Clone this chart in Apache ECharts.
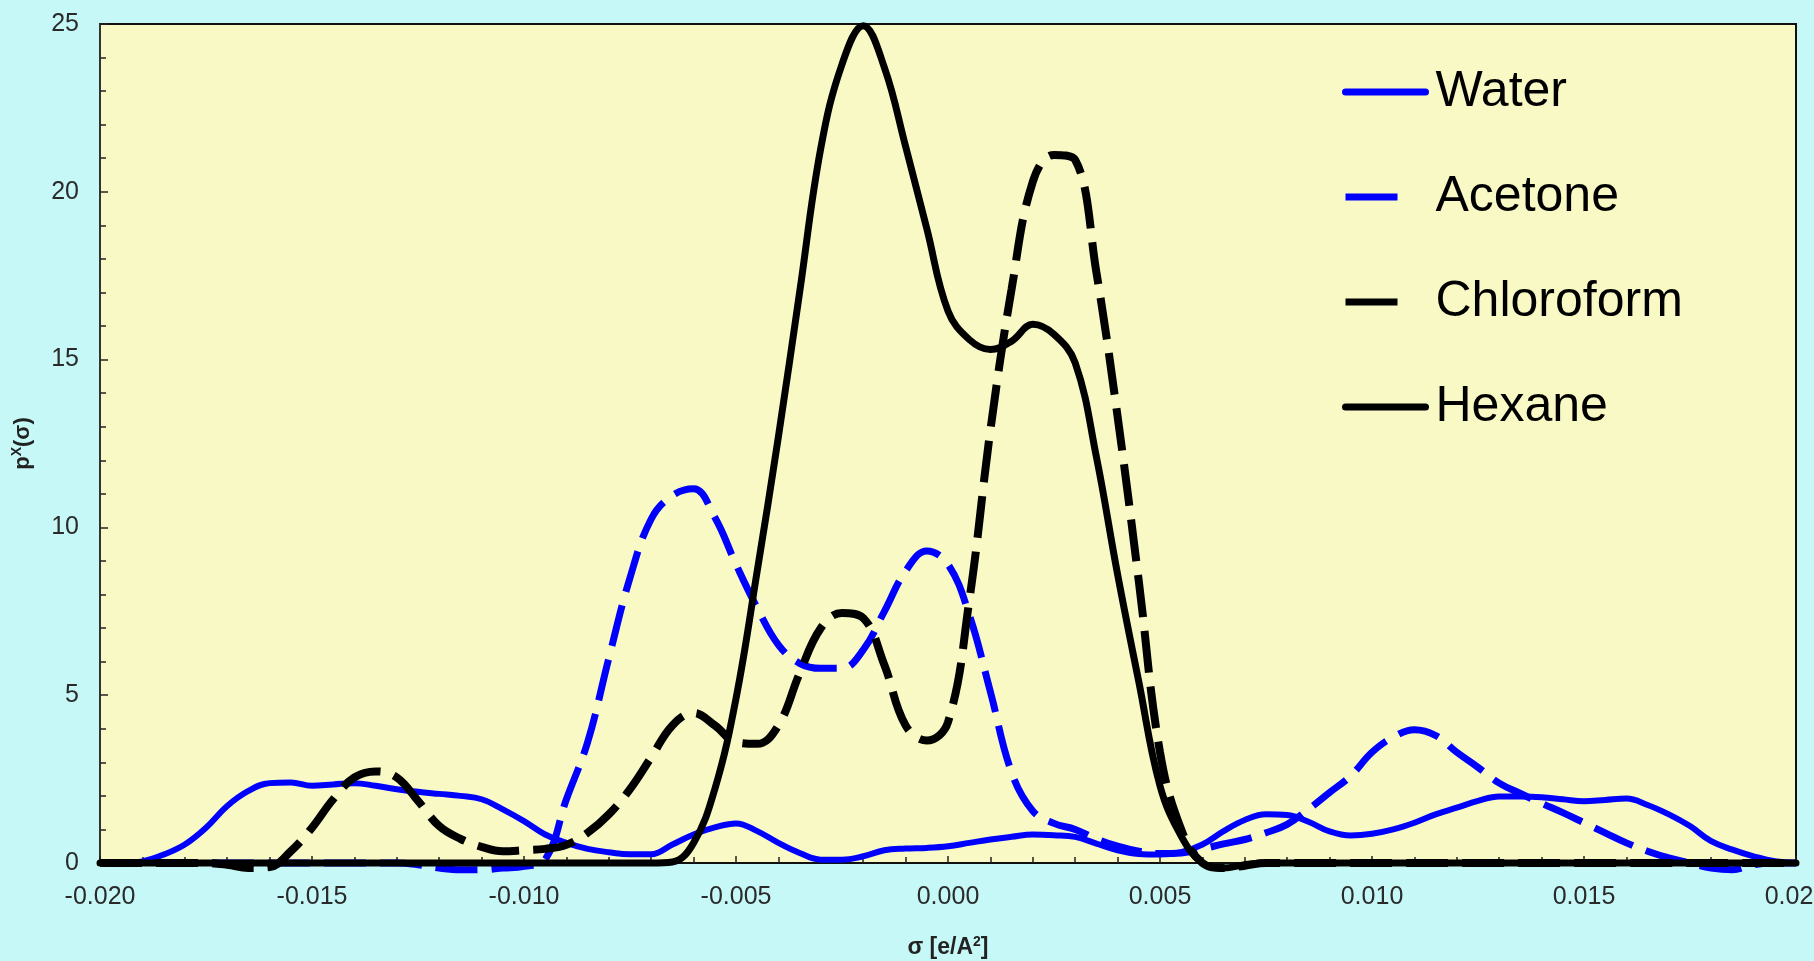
<!DOCTYPE html>
<html>
<head>
<meta charset="utf-8">
<title>Sigma profiles</title>
<script src="https://cdn.jsdelivr.net/npm/echarts@6/dist/echarts.min.js"></script>
<style>
  html, body { margin: 0; padding: 0; background: #c5f8f7; }
  #main { width: 1814px; height: 961px; }
</style>
</head>
<body>
<div id="main"></div>
<script>
// sigma grid [e/A^2], one point every 0.0005
const sigma = [
  -0.0200, -0.0195, -0.0190, -0.0185, -0.0180, -0.0175, -0.0170, -0.0165, -0.0160, -0.0155,
  -0.0150, -0.0145, -0.0140, -0.0135, -0.0130, -0.0125, -0.0120, -0.0115, -0.0110, -0.0105,
  -0.0100, -0.0095, -0.0090, -0.0085, -0.0080, -0.0075, -0.0070, -0.0065, -0.0060, -0.0055,
  -0.0050, -0.0045, -0.0040, -0.0035, -0.0030, -0.0025, -0.0020, -0.0015, -0.0010, -0.0005,
  0.0000, 0.0005, 0.0010, 0.0015, 0.0020, 0.0025, 0.0030, 0.0035, 0.0040, 0.0045,
  0.0050, 0.0055, 0.0060, 0.0065, 0.0070, 0.0075, 0.0080, 0.0085, 0.0090, 0.0095,
  0.0100, 0.0105, 0.0110, 0.0115, 0.0120, 0.0125, 0.0130, 0.0135, 0.0140, 0.0145,
  0.0150, 0.0155, 0.0160, 0.0165, 0.0170, 0.0175, 0.0180, 0.0185, 0.0190, 0.0195,
  0.0200
];

const water = [
  0, 0, 0.05, 0.25, 0.55, 1.05, 1.7, 2.15, 2.38, 2.4,
  2.3, 2.34, 2.38, 2.3, 2.2, 2.12, 2.06, 2.0, 1.9, 1.6,
  1.25, 0.85, 0.6, 0.42, 0.32, 0.26, 0.26, 0.55, 0.85, 1.06,
  1.18, 0.95, 0.6, 0.3, 0.1, 0.1, 0.2, 0.38, 0.43, 0.45,
  0.5, 0.6, 0.7, 0.78, 0.85, 0.83, 0.78, 0.58, 0.38, 0.27,
  0.25, 0.32, 0.55, 0.95, 1.28, 1.45, 1.43, 1.23, 0.94, 0.82,
  0.87, 1.0, 1.2, 1.45, 1.65, 1.85, 1.98, 1.98, 1.96, 1.9,
  1.84, 1.88, 1.92, 1.73, 1.45, 1.1, 0.65, 0.4, 0.2, 0.05,
  0
];

const acetone = [
  0, 0, 0, 0, 0, 0, 0, 0, 0, 0,
  0, 0, 0, 0, 0, -0.05, -0.15, -0.2, -0.2, -0.15,
  -0.1, 0.1, 1.9, 3.6, 6.1, 8.5, 10.25, 10.95, 11.15, 10.3,
  8.9, 7.6, 6.5, 5.95, 5.8, 5.8, 6.35, 7.5, 8.7, 9.3,
  8.9, 7.4, 5.1, 2.7, 1.55, 1.18, 1.0, 0.72, 0.5, 0.35,
  0.28, 0.3, 0.42, 0.57, 0.7, 0.9, 1.15, 1.6, 2.1, 2.6,
  3.3, 3.75, 3.97, 3.8, 3.3, 2.85, 2.38, 2.07, 1.78, 1.5,
  1.2, 0.9, 0.6, 0.35, 0.15, 0, -0.15, -0.2, -0.05, 0,
  0
];

const chloroform = [
  0, 0, 0, 0, 0, 0, -0.05, -0.15, -0.12, 0.35,
  1.05, 1.9, 2.55, 2.73, 2.55, 1.85, 1.1, 0.72, 0.48, 0.35,
  0.38, 0.42, 0.54, 0.9, 1.45, 2.2, 3.15, 4.1, 4.47, 4.1,
  3.6, 3.55, 4.1, 5.65, 7.0, 7.45, 7.3, 5.9, 4.1, 3.65,
  4.2, 7.8, 12.9, 17.1, 20.3, 21.1, 20.95, 17.6, 13.3, 8.4,
  3.3, 1.0, 0, -0.15, -0.08, 0, 0, 0, 0, 0,
  0, 0, 0, 0, 0, 0, 0, 0, 0, 0,
  0, 0, 0, 0, 0, 0, 0, 0, 0, 0,
  0
];

const hexane = [
  0, 0, 0, 0, 0, 0, 0, 0, 0, 0,
  0, 0, 0, 0, 0, 0, 0, 0, 0, 0,
  0, 0, 0, 0, 0, 0, 0, 0.03, 0.6, 2.2,
  4.9, 8.7, 12.7, 17.0, 21.3, 23.8, 24.95, 23.7, 21.35, 18.9,
  16.45, 15.6, 15.3, 15.55, 16.05, 15.75, 14.9, 12.1, 8.6, 5.4,
  2.3, 0.8, 0, -0.15, -0.05, 0, 0, 0, 0, 0,
  0, 0, 0, 0, 0, 0, 0, 0, 0, 0,
  0, 0, 0, 0, 0, 0, 0, 0, 0, 0,
  0
];

const seriesNames = ["Water", "Acetone", "Chloroform", "Hexane"];

const pairs = (ys) => sigma.map((s, i) => [s, ys[i]]);

const myChart = echarts.init(document.getElementById("main"));

const dash = [42, 14];
const font = "Liberation Sans, Arial, sans-serif";

const option = {
  backgroundColor: "#c5f8f7",
  animation: false,
  grid: {
    left: 100,
    right: 18,
    top: 24,
    bottom: 98,
    outerBoundsMode: "none",
    containLabel: false,
    show: true,
    backgroundColor: "#f9f9c5",
    borderColor: "#111",
    borderWidth: 2
  },
  legend: {
    orient: "vertical",
    left: 1337,
    top: 62,
    itemWidth: 80,
    itemHeight: 14,
    itemGap: 55,
    itemStyle: { opacity: 0 },
    lineStyle: { width: 7 },
    textStyle: {
      fontFamily: font,
      fontSize: 50,
      lineHeight: 50,
      color: "#000",
      padding: [0, 0, 0, 5]
    },
    data: [
      { name: "Water" },
      { name: "Acetone", lineStyle: { width: 7, type: [52, 40] } },
      { name: "Chloroform", lineStyle: { width: 7, type: [52, 40] } },
      { name: "Hexane" }
    ]
  },
  xAxis: {
    type: "value",
    min: -0.02,
    max: 0.02,
    interval: 0.005,
    name: "{b|σ [e/A}{sup|2}{b|]}",
    nameLocation: "middle",
    nameGap: 72,
    nameTextStyle: {
      rich: {
        b: { fontFamily: font, fontSize: 23, fontWeight: "bold", color: "#222", lineHeight: 26 },
        sup: { fontFamily: font, fontSize: 14, fontWeight: "bold", color: "#222", verticalAlign: "top", lineHeight: 26 }
      }
    },
    axisLine: { onZero: false, lineStyle: { color: "#111", width: 2 } },
    axisTick: { inside: true, length: 7, lineStyle: { color: "#222", width: 1.5 } },
    minorTick: { show: true, splitNumber: 5, length: 6, lineStyle: { color: "#222", width: 1.5 } },
    splitLine: { show: false },
    axisLabel: {
      margin: 22,
      fontFamily: font,
      fontSize: 25,
      color: "#2a2a2a",
      formatter: (v) => v.toFixed(3)
    }
  },
  yAxis: {
    type: "value",
    min: 0,
    max: 25,
    interval: 5,
    name: "{b|p}{sup|X}{b|(σ)}",
    nameLocation: "middle",
    nameGap: 64,
    nameTextStyle: {
      rich: {
        b: { fontFamily: font, fontSize: 22, fontWeight: "bold", color: "#222", lineHeight: 26 },
        sup: { fontFamily: font, fontSize: 14, fontWeight: "bold", color: "#222", verticalAlign: "top", lineHeight: 26 }
      }
    },
    axisLine: { show: true, onZero: false, lineStyle: { color: "#333", width: 2 } },
    axisTick: { show: true, inside: true, length: 8, lineStyle: { color: "#222", width: 1.5 } },
    minorTick: { show: true, splitNumber: 5, length: 6, lineStyle: { color: "#222", width: 1.5 } },
    splitLine: { show: false },
    axisLabel: {
      margin: 21,
      fontFamily: font,
      fontSize: 25,
      color: "#2a2a2a"
    }
  },
  series: [
    {
      name: seriesNames[0],
      type: "line",
      data: pairs(water),
      smooth: 0.4,
      symbol: "none",
      clip: false,
      color: "#0000ff",
      lineStyle: { color: "#0000ff", width: 6, cap: "round" }
    },
    {
      name: seriesNames[1],
      type: "line",
      data: pairs(acetone),
      smooth: 0.4,
      symbol: "none",
      clip: false,
      color: "#0000ff",
      lineStyle: { color: "#0000ff", width: 7, type: dash }
    },
    {
      name: seriesNames[2],
      type: "line",
      data: pairs(chloroform),
      smooth: 0.4,
      symbol: "none",
      clip: false,
      color: "#000",
      lineStyle: { color: "#000", width: 8, type: dash }
    },
    {
      name: seriesNames[3],
      type: "line",
      data: pairs(hexane),
      smooth: 0.4,
      symbol: "none",
      clip: false,
      color: "#000",
      lineStyle: { color: "#000", width: 7, cap: "round" }
    }
  ]
};

option && myChart.setOption(option);
</script>
</body>
</html>
